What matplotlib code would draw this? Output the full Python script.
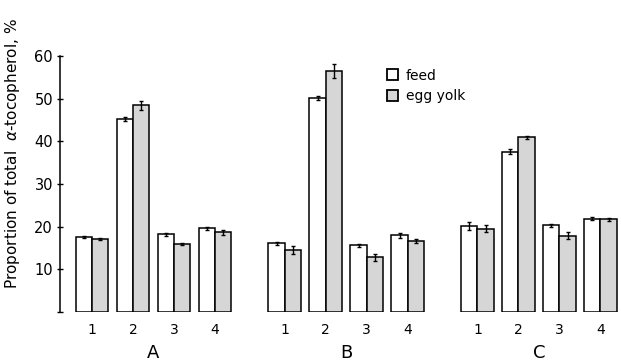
import numpy as np
import matplotlib
matplotlib.use('agg')
import matplotlib.pyplot as plt
from matplotlib.patches import Patch

groups = ['A', 'B', 'C']
pairs = ['1', '2', '3', '4']
feed = [[17.6, 45.2, 18.2, 19.6],
        [16.1, 50.2, 15.6, 18.0],
        [20.2, 37.6, 20.3, 21.9]]
feed_err = [[0.3, 0.5, 0.4, 0.3],
            [0.3, 0.5, 0.4, 0.6],
            [1.0, 0.6, 0.3, 0.3]]
egg = [[17.1, 48.4, 15.9, 18.7],
       [14.5, 56.5, 12.8, 16.6],
       [19.5, 40.9, 17.9, 21.7]]
egg_err = [[0.3, 1.0, 0.3, 0.6],
           [1.0, 1.7, 0.8, 0.4],
           [0.8, 0.4, 0.8, 0.3]]

plt.rcParams['font.family'] = 'DejaVu Sans'

fig = plt.figure(figsize=(6.21, 3.63), dpi=100)
ax = fig.add_axes([60/621, 1-312/363, 561/621, 256/363])

w = 0.4
group_gap = 4.7
xt, xl = [], []
for g in range(3):
    x = np.arange(4) + g*group_gap
    ax.bar(x - w/2, feed[g], w, color='white', edgecolor='black', linewidth=1.1,
           yerr=feed_err[g], error_kw=dict(elinewidth=1, capsize=1.5, capthick=1))
    ax.bar(x + w/2, egg[g], w, color='#d6d6d6', edgecolor='black', linewidth=1.1,
           yerr=egg_err[g], error_kw=dict(elinewidth=1, capsize=1.5, capthick=1))
    xt += list(x)
    xl += pairs
    ax.text(x.mean(), -9.6, groups[g], ha='center', va='center', fontsize=13)

ax.set_xticks(xt)
ax.set_xticklabels(xl, fontsize=10)
ax.tick_params(axis='x', length=0, pad=8)
ax.set_yticks(range(0, 61, 10))
ax.set_yticklabels([''] + [str(v) for v in range(10, 61, 10)], fontsize=10.5)
ax.tick_params(axis='y', length=4, width=1, direction='inout', pad=3)
ax.set_xlim(-0.78, 12.9)
ax.set_ylim(0, 60)
for s in ['top', 'right', 'bottom']:
    ax.spines[s].set_visible(False)
ax.spines['left'].set_linewidth(1.1)
ax.set_ylabel(r'Proportion of total  $\alpha$-tocopherol, %', fontsize=11)
ax.yaxis.set_label_coords(-0.068, 0.62)

handles = [Patch(facecolor='white', edgecolor='black', linewidth=1.3),
           Patch(facecolor='#d6d6d6', edgecolor='black', linewidth=1.3)]
ax.legend(handles, ['feed', 'egg yolk'], loc='upper left', bbox_to_anchor=(0.56, 1.0),
          frameon=False, handlelength=0.8, handleheight=0.8, handletextpad=0.6,
          fontsize=10, labelspacing=0.5)

fig.savefig('out.png', dpi=100)
